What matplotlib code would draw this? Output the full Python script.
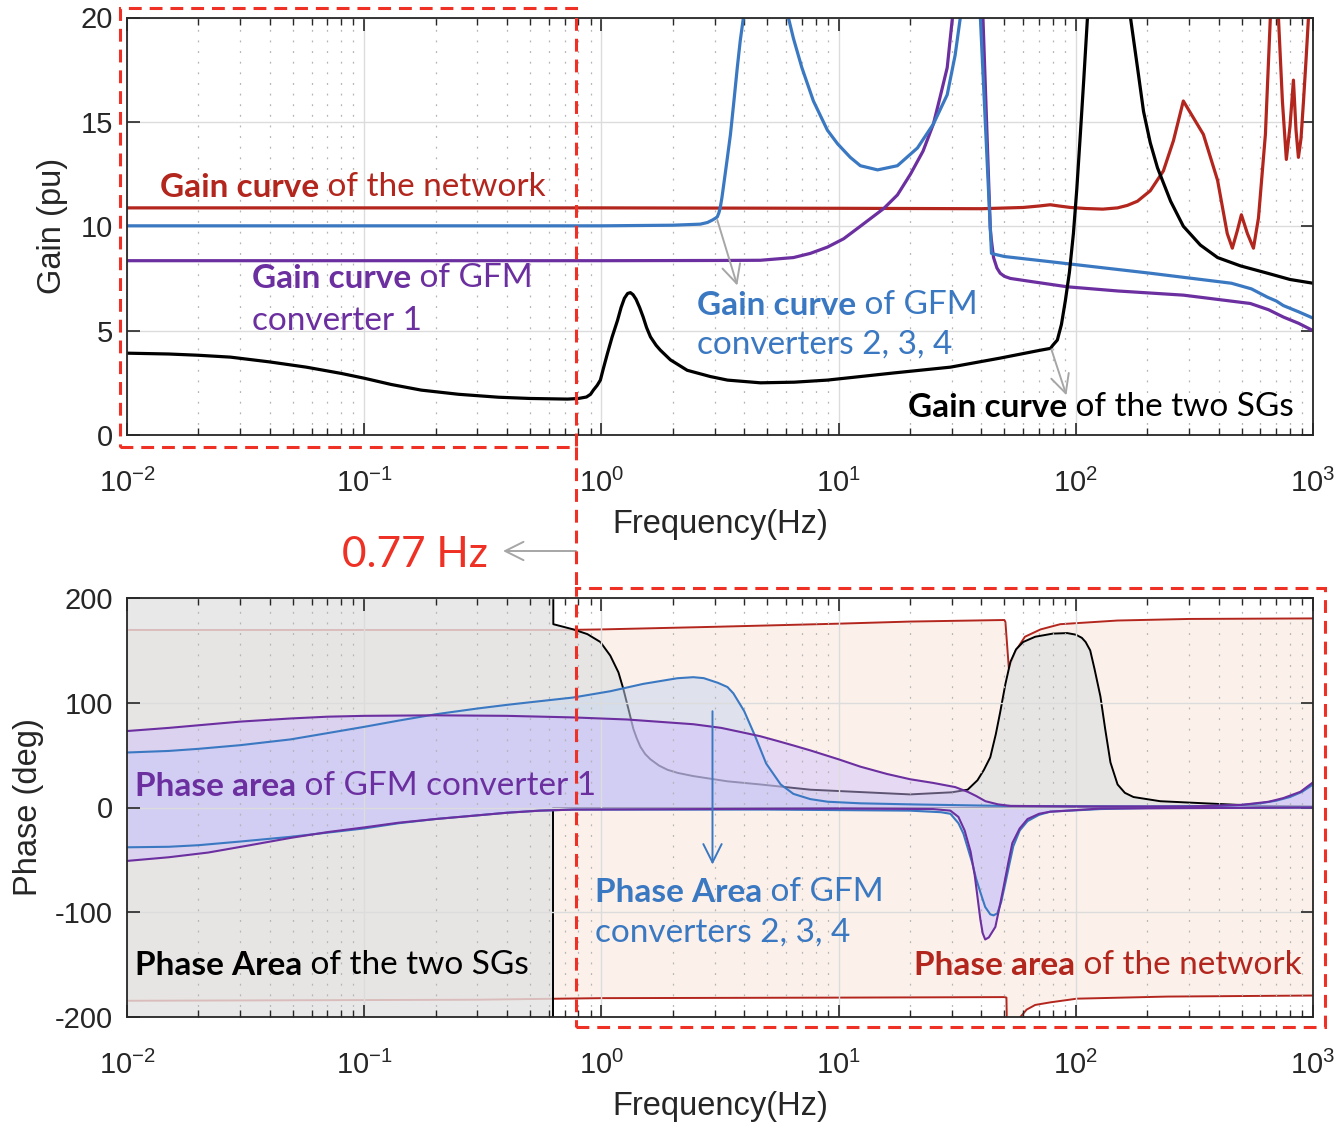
import matplotlib
matplotlib.use("Agg")
import matplotlib.pyplot as plt
from matplotlib.patches import Rectangle
from matplotlib.lines import Line2D
from matplotlib.text import Annotation
from matplotlib.ticker import NullLocator, NullFormatter, LogLocator

plt.rcParams['font.family'] = ['Liberation Sans', 'DejaVu Sans']
plt.rcParams['axes.unicode_minus'] = False
plt.rcParams['mathtext.fontset'] = 'custom'
plt.rcParams['mathtext.rm'] = 'Liberation Sans'
plt.rcParams['mathtext.it'] = 'Liberation Sans'

# ---- gain curves (Hz, pu) ----
net_f = [0.01, 1, 10, 40, 60, 70, 78, 85, 95, 110, 130, 150, 165, 182, 206, 234, 258, 284, 345, 396, 435, 457,
         480, 499, 529, 561, 589, 630, 661, 690, 715, 743, 772, 800, 827, 848, 868, 890, 912, 935, 957, 1000]
net_gain = [10.88, 10.88, 10.86, 10.84, 10.9, 10.97, 11.03, 10.97, 10.9, 10.85, 10.82, 10.88, 11.0, 11.2, 11.7,
            12.65, 14.1, 16.0, 14.4, 12.2, 9.65, 8.95, 9.8, 10.55, 9.65, 8.95, 10.4, 14.4, 20, 26, 20, 16, 13.2,
            14.8, 17.0, 14.6, 13.3, 14.2, 16.0, 18.0, 20, 25]

gfm234_f = [0.01, 1, 2.0, 2.61, 2.8, 2.94, 3.02, 3.08, 3.13, 3.17, 3.22, 3.27, 3.38, 3.5, 3.62, 3.74, 3.85,
            3.97, 4.9, 6.14, 6.45, 7.0, 7.83, 8.97, 9.9, 11.2, 12.35, 14.6, 17.7, 21.5, 25.1, 28.7, 31, 32.6,
            36, 39.6, 44.1, 45.8, 50, 78.2, 206, 453, 550, 643, 700, 750, 870, 1000]
gfm234_gain = [10.02, 10.02, 10.05, 10.1, 10.18, 10.3, 10.38, 10.45, 10.65, 10.9, 11.35, 11.9, 13.1, 14.4, 16.0,
               17.6, 18.9, 20, 30, 20, 19.0, 17.6, 16.0, 14.6, 13.95, 13.3, 12.9, 12.7, 12.9, 13.75, 14.9, 16.3,
               18.2, 20, 30, 20, 8.7, 8.65, 8.55, 8.3, 7.75, 7.27, 7.0, 6.6, 6.42, 6.2, 5.9, 5.6]

gfm1_f = [0.01, 1, 3, 4.68, 6.45, 7.6, 8.97, 10.5, 12.35, 15.5, 17.7, 20.1, 22.7, 25.1, 26.8, 28.7, 30.2, 35,
          40.6, 43.6, 44, 45, 46.5, 48, 50, 53, 65, 92, 150, 284, 544, 650, 750, 870, 1000]
gfm1_gain = [8.35, 8.35, 8.36, 8.37, 8.5, 8.7, 9.0, 9.4, 10.0, 10.85, 11.5, 12.5, 13.6, 14.9, 16.2, 17.6, 20,
             28, 20, 9.9, 9.4, 8.5, 8.0, 7.75, 7.6, 7.5, 7.35, 7.1, 6.9, 6.7, 6.3, 6.0, 5.65, 5.35, 5.0]

sg_f = [0.01, 0.015, 0.02, 0.0273, 0.04, 0.057, 0.08, 0.1, 0.13, 0.174, 0.25, 0.368, 0.5, 0.72, 0.8, 0.865,
        0.9, 0.925, 0.96, 0.99, 1.02, 1.06, 1.11, 1.17, 1.21, 1.25, 1.29, 1.325, 1.36, 1.4, 1.45, 1.5, 1.55,
        1.61, 1.7, 1.77, 1.954, 2.3, 2.88, 3.4, 4.68, 6.5, 8.97, 17.0, 29.6, 47.8, 70, 78.2, 80, 83.6, 87, 90.4,
        94, 97.7, 101, 104.5, 108, 112, 125, 150, 170, 182, 193, 206, 221, 251, 284, 335, 396, 495, 643, 800,
        1000]
sg_gain = [3.92, 3.88, 3.82, 3.73, 3.5, 3.25, 2.95, 2.72, 2.42, 2.15, 1.95, 1.81, 1.75, 1.72, 1.75, 1.82,
           1.95, 2.15, 2.38, 2.63, 3.2, 3.9, 4.7, 5.5, 6.1, 6.55, 6.78, 6.82, 6.72, 6.5, 6.1, 5.65, 5.15, 4.7,
           4.3, 4.07, 3.6, 3.1, 2.8, 2.63, 2.5, 2.53, 2.63, 2.97, 3.25, 3.68, 4.05, 4.15, 4.3, 4.55, 5.3, 6.45,
           7.8, 9.65, 11.8, 14.4, 17.0, 20, 35, 35, 20, 17.6, 15.5, 14.0, 12.8, 11.2, 10.0, 9.1, 8.5, 8.1, 7.75,
           7.45, 7.27]

# ---- phase areas (Hz, deg) ----
net_up_f = [0.01, 0.7, 1, 3, 10, 20, 50, 50.5, 52.2, 55.6, 61, 71, 86, 150, 300, 1000]
net_up = [169.5, 169.5, 170, 172.5, 175.5, 177.5, 179, 177, 133, 149, 163, 170, 175, 178.5, 180, 180.5]
net_lo_f = [0.01, 0.3, 1, 10, 50, 51, 51.5, 56, 58.4, 62, 67.4, 78.2, 101, 243, 1000]
net_lo = [-184.5, -183.5, -182, -181.5, -181, -181.5, -240, -215, -200, -193, -188.5, -186, -182.5, -180.5,
          -179.5]

sg_up_f = [0.01, 0.627, 0.627, 0.762, 0.873, 0.99, 1.09, 1.18, 1.238, 1.30, 1.364, 1.41, 1.46, 1.53, 1.61,
           1.75, 1.90, 2.1, 2.44, 3.4, 4.68, 7.6, 20, 30, 35, 38.5, 41, 43.6, 46, 48, 50.5, 53, 56, 60, 67.4,
           80, 92, 100, 106, 110, 115, 120, 127, 133, 140, 150, 161, 175, 227, 350, 600, 1000]
sg_up = [210, 210, 175, 170, 165.5, 158, 145, 129, 113, 94, 75, 66, 58, 51, 46, 40, 36, 33, 30, 25, 22, 17,
         12.5, 14.5, 17, 26, 36, 48, 70, 91, 118, 139, 151, 158, 163, 166, 166.5, 165, 162, 158, 150, 132, 106,
         75, 43, 22, 14, 10, 6, 4, 1.5, 1]
sg_lo_f = [0.01, 0.627, 0.627, 1000]
sg_lo = [-210, -210, 0, 0]

gfm234_up_f = [0.01, 0.015, 0.02, 0.03, 0.0489, 0.07, 0.1, 0.14, 0.2, 0.3, 0.4, 0.55, 0.76, 1.09, 1.5, 2.09,
               2.44, 2.7, 3.1, 3.4, 3.6, 4.0, 4.45, 4.95, 5.7, 6.45, 7.6, 9, 12.35, 20, 50, 200, 400, 500, 600,
               700, 800, 900, 1000]
gfm234_up = [52.5, 54, 56, 59.5, 65, 71, 77, 83, 89, 94.5, 98, 101.5, 105, 111, 118, 123.4, 124.4, 123.5,
             119, 115, 109, 92, 68, 42, 22, 13, 8, 5.5, 4, 3, 1.5, 1, 1.5, 2.5, 4, 6.5, 10, 15, 22]
gfm234_lo_f = [0.01, 0.015, 0.02, 0.03, 0.0489, 0.07, 0.1, 0.14, 0.2, 0.3, 0.4, 0.55, 0.762, 5, 20, 27, 29.6,
               32, 33.6, 36.6, 38, 39.6, 41.5, 43.6, 45, 46.7, 48.5, 50.5, 52.5, 54.5, 58, 62.6, 70, 78, 127,
               200, 1000]
gfm234_lo = [-38, -37.5, -36, -32.5, -28, -24, -20, -15, -11, -7.5, -5, -3, -2, -2, -3, -4.5, -6, -15, -25,
             -53, -68, -81, -95, -102, -103, -101, -90, -72, -54, -37, -22, -13, -7, -4, -1.5, -0.5, 0]

gfm1_up_f = [0.01, 0.015, 0.02, 0.03, 0.049, 0.07, 0.1, 0.2, 0.4, 0.76, 1.287, 2.44, 3.2, 3.97, 4.68, 5.53,
             6.5, 7.6, 10, 12.35, 16, 20, 25, 31, 35, 38, 41.6, 47, 53, 100, 300, 500, 650, 750, 885, 1000]
gfm1_up = [73, 76, 78.5, 82, 85, 86.7, 87.5, 88, 87.5, 86, 84, 79.5, 76, 71.5, 68, 63.5, 59, 54.5, 46, 39,
           32, 27, 23.5, 19.5, 15, 11, 6, 3, 1.5, 1, 1, 2.5, 5.5, 9, 15, 24]
gfm1_lo_f = [0.01, 0.015, 0.022, 0.033, 0.049, 0.07, 0.1, 0.14, 0.2, 0.3, 0.4, 0.55, 0.762, 10, 25, 29.6, 32,
             34, 36, 37.5, 39.6, 40.5, 41.5, 43, 45.8, 47.5, 49.6, 52, 54, 58, 62.6, 70, 78, 127, 1000]
gfm1_lo = [-51, -47.5, -43, -36, -29, -23.5, -19, -14.5, -11, -7.5, -5, -3, -2, -1, -1.5, -3, -9, -22, -42,
           -65, -107, -120, -126, -124, -114, -97, -76, -52, -34, -20, -11, -6, -4, -1, 0]

RED = '#B3261E'
BLUE = '#3B78C2'
PURPLE = '#6C2FA0'
BOX = '#EE3124'
AXC = '#262626'
ANN = 'Lato'

W, H = 1344, 1130
fig = plt.figure(figsize=(W / 100, H / 100), dpi=100)
ax1 = fig.add_axes([127 / W, 1 - 435 / H, 1186 / W, 417.5 / H])
ax2 = fig.add_axes([127 / W, 1 - 1017 / H, 1186 / W, 419 / H])

# gain plot
ax1.plot(net_f, net_gain, color=RED, lw=2.3)
ax1.plot(gfm1_f, gfm1_gain, color=PURPLE, lw=2.3)
ax1.plot(gfm234_f, gfm234_gain, color=BLUE, lw=2.3)
ax1.plot(sg_f, sg_gain, color='black', lw=2.3)
ax1.set_ylim(0, 20)
ax1.set_yticks([0, 5, 10, 15, 20])
ax1.set_ylabel('Gain (pu)', fontsize=23.5, color=AXC, labelpad=9)


# phase plot
def area(ax, f_up, up, f_lo, lo, **kw):
    ax.fill(list(f_up) + list(f_lo[::-1]), list(up) + list(lo[::-1]), lw=0, **kw)


area(ax2, net_up_f, net_up, net_lo_f, net_lo, color='#FBF1EA', zorder=1.0)
ax2.plot(net_up_f, net_up, color=RED, lw=1.4, zorder=1.05)
ax2.plot(net_lo_f, net_lo, color=RED, lw=1.4, zorder=1.05)
area(ax2, sg_up_f, sg_up, sg_lo_f, sg_lo, color='#E3E3E3', alpha=0.8, zorder=1.1)
ax2.plot(sg_up_f, sg_up, color='black', lw=1.4, zorder=1.15)
ax2.plot(sg_lo_f, sg_lo, color='black', lw=1.4, zorder=1.15)
area(ax2, gfm234_up_f, gfm234_up, gfm234_lo_f, gfm234_lo, color='#C5D5F0', alpha=0.5, zorder=1.2)
area(ax2, gfm1_up_f, gfm1_up, gfm1_lo_f, gfm1_lo, color='#CEBCFE', alpha=0.45, zorder=1.3)
ax2.plot(gfm234_up_f, gfm234_up, color=BLUE, lw=1.5, zorder=2.0)
ax2.plot(gfm234_lo_f, gfm234_lo, color=BLUE, lw=1.5, zorder=2.0)
ax2.plot(gfm1_up_f, gfm1_up, color=PURPLE, lw=1.5, zorder=2.1)
ax2.plot(gfm1_lo_f, gfm1_lo, color=PURPLE, lw=1.5, zorder=2.1)
ax2.set_ylim(-200, 200)
ax2.set_yticks([-200, -100, 0, 100, 200])
ax2.set_ylabel('Phase (deg)', fontsize=23.5, color=AXC, labelpad=8)

for ax in (ax1, ax2):
    ax.set_xscale('log')
    ax.set_xlim(0.01, 1000)
    ax.xaxis.set_major_locator(LogLocator(base=10, numticks=10))
    ax.xaxis.set_minor_locator(LogLocator(base=10, subs=range(2, 10), numticks=100))
    ax.xaxis.set_minor_formatter(NullFormatter())
    ax.yaxis.set_minor_locator(NullLocator())
    ax.set_axisbelow('line')
    ax.grid(True, which='major', color='#DCDCDC', lw=1.0)
    ax.grid(True, which='minor', axis='x', color='#B5B5B5', lw=0.9, linestyle=(0, (1.5, 7)))
    ax.tick_params(which='both', direction='in', top=True, right=True, colors=AXC, labelsize=21)
    ax.tick_params(axis='x', which='both', pad=24)
    ax.tick_params(axis='y', pad=10)
    ax.tick_params(which='major', length=9, width=1.2)
    ax.tick_params(which='minor', length=5, width=1.0)
    for s in ax.spines.values():
        s.set_color(AXC)
        s.set_linewidth(1.3)
        s.set_zorder(3)
    ax.set_xlabel('Frequency(Hz)', fontsize=23.5, color=AXC, labelpad=8)


def fx(px):
    return px / W


def fy(py):
    return 1 - py / H


def label(x, y, bold, rest, color, size):
    t = fig.text(fx(x), fy(y), bold, color=color, fontsize=size, fontweight='bold',
                 family=ANN, va='baseline', ha='left')
    a = Annotation(rest, xy=(1, 0), xycoords=t, va='bottom', ha='left', color=color,
                   fontsize=size, family=ANN)
    fig.add_artist(a)


def plain(x, y, s, color, size):
    fig.text(fx(x), fy(y), s, color=color, fontsize=size, family=ANN, va='baseline', ha='left')


# gain annotations
label(160, 197, 'Gain curve', ' of the network', RED, 24)
label(252, 288, 'Gain curve', ' of GFM', PURPLE, 24)
plain(252, 330, 'converter 1', PURPLE, 24)
label(697, 315, 'Gain curve', ' of GFM', BLUE, 24)
plain(697, 354, 'converters 2, 3, 4', BLUE, 24)
label(908, 417, 'Gain curve', ' of the two SGs', 'black', 24)

# phase annotations
label(135, 796, 'Phase area', ' of GFM converter 1', PURPLE, 24)
label(595, 902, 'Phase Area', ' of GFM', BLUE, 24)
plain(595, 942, 'converters 2, 3, 4', BLUE, 24)
label(135, 975, 'Phase Area', ' of the two SGs', 'black', 24)
label(914, 975, 'Phase area', ' of the network', RED, 24)

# arrows
arrow_gray = dict(arrowstyle='->,head_length=0.6,head_width=0.3', color='#A6A6A6', lw=1.4,
                  mutation_scale=22, shrinkA=0, shrinkB=0)
ax1.annotate('', xy=(3.74, 7.16), xytext=(3.08, 10.3), arrowprops=arrow_gray)
ax1.annotate('', xy=(91.3, 1.9), xytext=(78.9, 4.1), arrowprops=arrow_gray)
ax2.annotate('', xy=(2.94, -54.5), xytext=(2.94, 91.9),
             arrowprops=dict(arrowstyle='->,head_length=0.6,head_width=0.3', color=BLUE, lw=1.4,
                             mutation_scale=22, shrinkA=0, shrinkB=0), zorder=4)

# 0.77 Hz marker
fig.text(fx(342), fy(567), '0.77 Hz', color=BOX, fontsize=30.5, family=ANN, va='baseline', ha='left')
fig.add_artist(Annotation('', xy=(fx(503), fy(551)), xycoords='figure fraction',
                          xytext=(fx(576), fy(551)), textcoords='figure fraction',
                          arrowprops=arrow_gray))

dash = (0, (4.2, 2.6))
fig.add_artist(Rectangle((fx(120), fy(447)), (576 - 120) / W, (447 - 8) / H, transform=fig.transFigure,
                         fill=False, edgecolor=BOX, lw=2.2, linestyle=dash, zorder=10))
fig.add_artist(Rectangle((fx(576), fy(1027)), (1325 - 576) / W, (1027 - 588) / H, transform=fig.transFigure,
                         fill=False, edgecolor=BOX, lw=2.2, linestyle=dash, zorder=10))
fig.add_artist(Line2D([fx(576), fx(576)], [fy(447), fy(588)], transform=fig.transFigure,
                      color=BOX, lw=2.2, linestyle=dash, zorder=10))

fig.savefig('out.png', dpi=100)
